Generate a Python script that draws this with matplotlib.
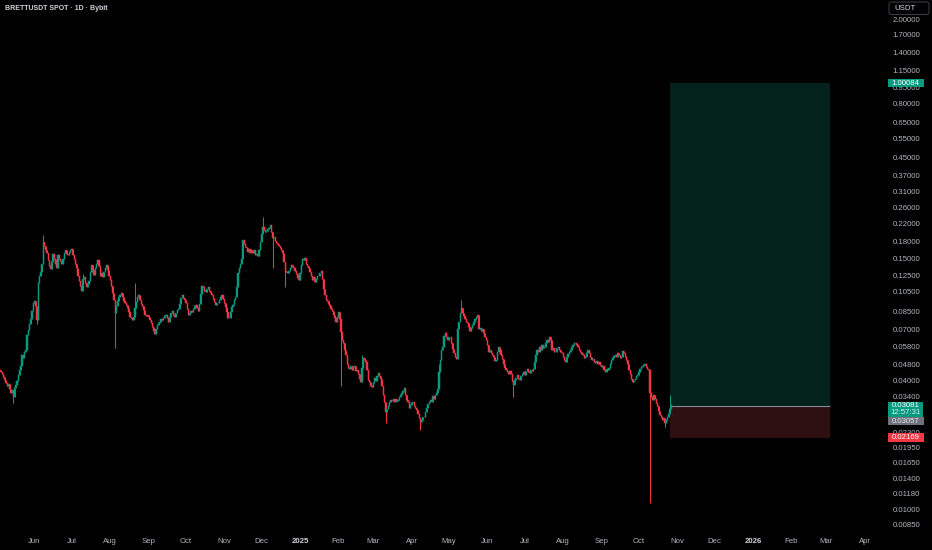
import numpy as np
import matplotlib
matplotlib.use("Agg")
import matplotlib.pyplot as plt
import matplotlib.dates as mdates
from matplotlib.patches import Rectangle, FancyBboxPatch
from matplotlib.transforms import IdentityTransform
import pandas as pd

plt.rcParams['font.family'] = ['Liberation Sans', 'DejaVu Sans']

# ---------------- data ----------------
title = "BRETTUSDT SPOT · 1D · Bybit"
quote_ccy = "USDT"
start_date = "2024-05-05"
first_open = 0.0450

may_2024 = [0.0442, 0.0430, 0.0418, 0.0405, 0.0392, 0.0380, 0.0386, 0.0366, 0.0352, 0.0361,
            0.0335, 0.0372, 0.0385, 0.0398, 0.0425, 0.0448, 0.0470, 0.0530, 0.0512, 0.0548,
            0.0560, 0.0660, 0.0695, 0.0740, 0.0780, 0.0850, 0.0930]
jun_2024 = [0.0945, 0.0900, 0.0770, 0.1150, 0.1250, 0.1300, 0.1420, 0.1800, 0.1720, 0.1650,
            0.1600, 0.1480, 0.1380, 0.1340, 0.1450, 0.1580, 0.1500, 0.1420, 0.1350, 0.1560,
            0.1500, 0.1460, 0.1420, 0.1500, 0.1600, 0.1650, 0.1580, 0.1560, 0.1620, 0.1650]
jul_2024 = [0.1660, 0.1560, 0.1500, 0.1420, 0.1350, 0.1250, 0.1180, 0.1120, 0.1060, 0.1200,
            0.1230, 0.1150, 0.1100, 0.1140, 0.1180, 0.1300, 0.1400, 0.1330, 0.1260, 0.1350,
            0.1420, 0.1480, 0.1380, 0.1250, 0.1280, 0.1230, 0.1300, 0.1360, 0.1400, 0.1330,
            0.1250]
aug_2024 = [0.1190, 0.1120, 0.1040, 0.0960, 0.0830, 0.0900, 0.0950, 0.0990, 0.1010, 0.1030,
            0.0990, 0.0950, 0.0930, 0.0910, 0.0880, 0.0840, 0.0800, 0.0790, 0.0770, 0.0800,
            0.0880, 0.0940, 0.0990, 0.1010, 0.0960, 0.0920, 0.0900, 0.0860, 0.0820, 0.0810,
            0.0820]
sep_2024 = [0.0800, 0.0770, 0.0745, 0.0720, 0.0690, 0.0665, 0.0700, 0.0730, 0.0750, 0.0760,
            0.0780, 0.0770, 0.0790, 0.0810, 0.0820, 0.0790, 0.0760, 0.0800, 0.0830, 0.0850,
            0.0820, 0.0800, 0.0830, 0.0860, 0.0870, 0.0920, 0.0980, 0.1010, 0.0980, 0.0960]
oct_2024 = [0.0930, 0.0870, 0.0820, 0.0830, 0.0850, 0.0840, 0.0870, 0.0900, 0.0910, 0.0880,
            0.0850, 0.0920, 0.1020, 0.1120, 0.1100, 0.1060, 0.1050, 0.1080, 0.1100, 0.1060,
            0.1030, 0.1010, 0.0970, 0.0940, 0.0910, 0.0930, 0.0930, 0.0960, 0.0990, 0.1010,
            0.0970]
nov_2024 = [0.0930, 0.0890, 0.0840, 0.0790, 0.0790, 0.0840, 0.0890, 0.0910, 0.0960, 0.0990,
            0.1100, 0.1280, 0.1350, 0.1420, 0.1500, 0.1830, 0.1750, 0.1700, 0.1680, 0.1620,
            0.1660, 0.1600, 0.1650, 0.1590, 0.1640, 0.1560, 0.1580, 0.1540, 0.1650, 0.1800]
dec_2024 = [0.1950, 0.2120, 0.2050, 0.2000, 0.2030, 0.2060, 0.2100, 0.2150, 0.2000, 0.1880,
            0.1900, 0.1820, 0.1780, 0.1750, 0.1720, 0.1680, 0.1650, 0.1600, 0.1450, 0.1320,
            0.1300, 0.1280, 0.1320, 0.1360, 0.1400, 0.1370, 0.1350, 0.1320, 0.1270, 0.1220,
            0.1190]
jan_2025 = [0.1280, 0.1400, 0.1500, 0.1480, 0.1510, 0.1420, 0.1380, 0.1350, 0.1300, 0.1240,
            0.1190, 0.1230, 0.1170, 0.1200, 0.1250, 0.1240, 0.1290, 0.1320, 0.1200, 0.1080,
            0.1010, 0.0960, 0.0950, 0.0920, 0.0900, 0.0870, 0.0850, 0.0820, 0.0790, 0.0760,
            0.0800]
feb_2025 = [0.0840, 0.0780, 0.0680, 0.0620, 0.0600, 0.0560, 0.0530, 0.0480, 0.0460, 0.0455,
            0.0470, 0.0450, 0.0465, 0.0470, 0.0445, 0.0450, 0.0430, 0.0410, 0.0395, 0.0460,
            0.0510, 0.0500, 0.0490, 0.0450, 0.0405, 0.0395, 0.0380, 0.0375]
mar_2025 = [0.0390, 0.0415, 0.0400, 0.0420, 0.0435, 0.0420, 0.0410, 0.0380, 0.0345, 0.0320,
            0.0285, 0.0295, 0.0305, 0.0318, 0.0325, 0.0322, 0.0330, 0.0320, 0.0328, 0.0322,
            0.0326, 0.0335, 0.0345, 0.0350, 0.0360, 0.0370, 0.0345, 0.0325, 0.0318, 0.0300,
            0.0310]
apr_2025 = [0.0315, 0.0318, 0.0305, 0.0300, 0.0292, 0.0280, 0.0268, 0.0258, 0.0262, 0.0272,
            0.0270, 0.0285, 0.0300, 0.0312, 0.0320, 0.0325, 0.0318, 0.0340, 0.0330, 0.0345,
            0.0350, 0.0365, 0.0440, 0.0500, 0.0560, 0.0575, 0.0650, 0.0670, 0.0640, 0.0625]
may_2025 = [0.0640, 0.0645, 0.0600, 0.0565, 0.0540, 0.0520, 0.0505, 0.0700, 0.0760, 0.0830,
            0.0880, 0.0830, 0.0810, 0.0780, 0.0760, 0.0750, 0.0720, 0.0690, 0.0710, 0.0730,
            0.0760, 0.0780, 0.0800, 0.0820, 0.0700, 0.0710, 0.0690, 0.0700, 0.0670, 0.0640,
            0.0620]
jun_2025 = [0.0590, 0.0550, 0.0560, 0.0540, 0.0530, 0.0520, 0.0495, 0.0500, 0.0550, 0.0580,
            0.0560, 0.0530, 0.0505, 0.0480, 0.0460, 0.0450, 0.0440, 0.0430, 0.0445, 0.0430,
            0.0400, 0.0385, 0.0405, 0.0415, 0.0425, 0.0410, 0.0405, 0.0420, 0.0430, 0.0440]
jul_2025 = [0.0425, 0.0445, 0.0455, 0.0440, 0.0435, 0.0450, 0.0445, 0.0455, 0.0490, 0.0530,
            0.0560, 0.0550, 0.0575, 0.0560, 0.0590, 0.0570, 0.0580, 0.0600, 0.0620, 0.0610,
            0.0640, 0.0620, 0.0560, 0.0570, 0.0545, 0.0550, 0.0570, 0.0580, 0.0560, 0.0550,
            0.0540]
aug_2025 = [0.0520, 0.0500, 0.0490, 0.0520, 0.0535, 0.0550, 0.0560, 0.0580, 0.0590, 0.0600,
            0.0605, 0.0590, 0.0580, 0.0560, 0.0550, 0.0535, 0.0530, 0.0510, 0.0520, 0.0540,
            0.0560, 0.0540, 0.0520, 0.0500, 0.0505, 0.0490, 0.0488, 0.0495, 0.0480, 0.0490,
            0.0475]
sep_2025 = [0.0465, 0.0470, 0.0450, 0.0440, 0.0455, 0.0450, 0.0460, 0.0480, 0.0500, 0.0510,
            0.0525, 0.0530, 0.0520, 0.0540, 0.0530, 0.0510, 0.0520, 0.0555, 0.0540, 0.0520,
            0.0500, 0.0480, 0.0450, 0.0430, 0.0410, 0.0395, 0.0405, 0.0410, 0.0420, 0.0425]
oct_2025 = [0.0440, 0.0455, 0.0465, 0.0470, 0.0475, 0.0478, 0.0465, 0.0455, 0.0450, 0.0350,
            0.0335, 0.0325, 0.0345, 0.0330, 0.0315, 0.0305, 0.0290, 0.0278, 0.0270, 0.0262,
            0.0268, 0.0255, 0.0262, 0.0270, 0.0280, 0.0295, 0.03081]

# notable wick extremes (other candles: wick = body)
wick_high = {
    "2024-06-08": 0.1940, "2024-08-21": 0.1150, "2024-12-02": 0.2350,
    "2025-05-11": 0.0960, "2025-04-23": 0.0480, "2025-10-26": 0.0345,
    "2024-07-10": 0.1270, "2025-02-20": 0.0530,
}
wick_low = {
    "2024-05-15": 0.0315, "2024-06-03": 0.0740, "2024-08-05": 0.0570,
    "2024-12-10": 0.1350, "2024-12-20": 0.1100, "2025-02-03": 0.0380,
    "2025-03-11": 0.0254, "2025-04-08": 0.0236, "2025-06-22": 0.0335,
    "2025-10-10": 0.01067, "2025-10-22": 0.0242,
}

# long position tool
position_start = "2025-10-26"
position_end = "2026-03-04"
entry_price = 0.03057
target_price = 1.00084
stop_price = 0.02169
last_price = 0.03081
countdown = "12:57:31"

y_ticks = [2.0, 1.7, 1.4, 1.15, 0.95, 0.80, 0.65, 0.55, 0.45, 0.37, 0.31, 0.26, 0.22,
           0.18, 0.15, 0.125, 0.105, 0.085, 0.070, 0.058, 0.048, 0.040, 0.034,
           0.023, 0.0195, 0.0165, 0.014, 0.0118, 0.010, 0.0085]
month_ticks = pd.date_range("2024-06-01", "2026-04-01", freq="MS")

# ---------------- styling ----------------
BG = "#000000"
UP = "#089981"
DOWN = "#f23645"
TXT = "#b2b5be"
W, H = 932, 550

closes = np.array(may_2024 + jun_2024 + jul_2024 + aug_2024 + sep_2024 + oct_2024 +
                  nov_2024 + dec_2024 + jan_2025 + feb_2025 + mar_2025 + apr_2025 +
                  may_2025 + jun_2025 + jul_2025 + aug_2025 + sep_2025 + oct_2025)
dates = pd.date_range(start_date, periods=len(closes), freq="D")
opens = np.concatenate([[first_open], closes[:-1]])
highs = np.maximum(opens, closes)
lows = np.minimum(opens, closes)
for d, v in wick_high.items():
    k = dates.get_loc(pd.Timestamp(d))
    highs[k] = max(highs[k], v)
for d, v in wick_low.items():
    k = dates.get_loc(pd.Timestamp(d))
    lows[k] = min(lows[k], v)

x = mdates.date2num(dates)
up = closes >= opens
cols = np.where(up, UP, DOWN)

fig = plt.figure(figsize=(W / 100, H / 100), dpi=100, facecolor=BG)
ax = fig.add_axes([0, 18 / H, 882 / W, 532 / H])
ax.set_facecolor(BG)
ax.set_yscale("log")

# position box
px0 = mdates.date2num(pd.Timestamp(position_start))
px1 = mdates.date2num(pd.Timestamp(position_end))
ax.add_patch(Rectangle((px0, entry_price), px1 - px0, target_price - entry_price,
                       facecolor="#04221c", edgecolor="none", zorder=0.5))
ax.add_patch(Rectangle((px0, stop_price), px1 - px0, entry_price - stop_price,
                       facecolor="#2e1013", edgecolor="none", zorder=0.5))
ax.hlines(entry_price, px0, px1, color="#868993", linewidth=0.8, zorder=0.6)

# candles
ax.vlines(x, lows, highs, colors=cols, linewidth=0.75, zorder=2)
ax.bar(x, np.abs(closes - opens), bottom=np.minimum(opens, closes), width=0.9,
       color=cols, edgecolor=cols, linewidth=0.35, zorder=3)

# limits (log scale, pixel-matched)
jan1 = mdates.date2num(pd.Timestamp("2025-01-01"))
ax.set_xlim(jan1 - 300 / 1.241, jan1 + 582 / 1.241)
ax.set_ylim(0.00782, 2.456)

for s in ax.spines.values():
    s.set_visible(False)

ax.yaxis.tick_right()
ax.set_yticks(y_ticks)
ax.set_yticklabels([f"{v:.5f}" for v in y_ticks])
ax.yaxis.set_minor_locator(matplotlib.ticker.NullLocator())
ax.tick_params(axis="y", length=0, pad=7.5, labelsize=5.6, labelcolor=TXT)

ax.set_xticks(mdates.date2num(month_ticks))
xl = [str(d.year) if d.month == 1 else d.strftime("%b") for d in month_ticks]
ax.set_xticklabels(xl)
ax.tick_params(axis="x", length=0, pad=4.5, labelsize=5.6, labelcolor=TXT)
for lab, d in zip(ax.get_xticklabels(), month_ticks):
    if d.month == 1:
        lab.set_fontweight("bold")
        lab.set_color("#d1d4dc")

# ---------------- overlay labels (display pixels) ----------------
ID = IdentityTransform()


def py(price):
    return ax.transData.transform((x[0], price))[1]


def box(x0, y0, x1, y1, color):
    fig.add_artist(Rectangle((x0, y0), x1 - x0, y1 - y0, facecolor=color,
                             edgecolor="none", transform=ID, zorder=5))


def txt(xc, yc, s, color="white", ha="center", weight="normal", size=5.6):
    fig.text(xc, yc, s, transform=ID, ha=ha, va="center", color=color,
             fontsize=size, fontweight=weight, zorder=6)


LX0, LX1 = 887.5, 924.0
# target
yt = py(target_price)
box(LX0, yt - 4, LX1, yt + 4, UP)
txt((LX0 + LX1) / 2, yt, f"{target_price:.5f}")
# last price + countdown
yl = py(last_price)
box(LX0, yl - 12.2, LX1 - 1, yl + 3.6, UP)
txt((LX0 + LX1 - 1) / 2, yl, f"{last_price:.5f}")
txt((LX0 + LX1 - 1) / 2, yl - 7.6, countdown, color="#e0f2ee")
# entry (pushed below the last-price label)
ye_top = yl - 12.2
box(LX0, ye_top - 7.4, LX1, ye_top, "#6f727c")
txt((LX0 + LX1) / 2, ye_top - 3.7, f"{entry_price:.5f}", color="#e6e6e6")
# stop
ys = py(stop_price)
box(LX0, ys - 4.6, LX1, ys + 4.6, DOWN)
txt((LX0 + LX1) / 2, ys, f"{stop_price:.5f}")

# currency box
fig.add_artist(FancyBboxPatch((889, H - 14.5), 40, 12.5,
                              boxstyle="round,pad=0,rounding_size=2.5",
                              facecolor=BG, edgecolor="#363a45", linewidth=0.8,
                              transform=ID, zorder=5))
txt(894.5, H - 8.2, quote_ccy, color="#d1d4dc", ha="left", size=5.6)

# title
txt(5, H - 8, title, color="#d1d4dc", ha="left", weight="bold", size=5.0)

fig.savefig("out.png", dpi=100, facecolor=BG)
